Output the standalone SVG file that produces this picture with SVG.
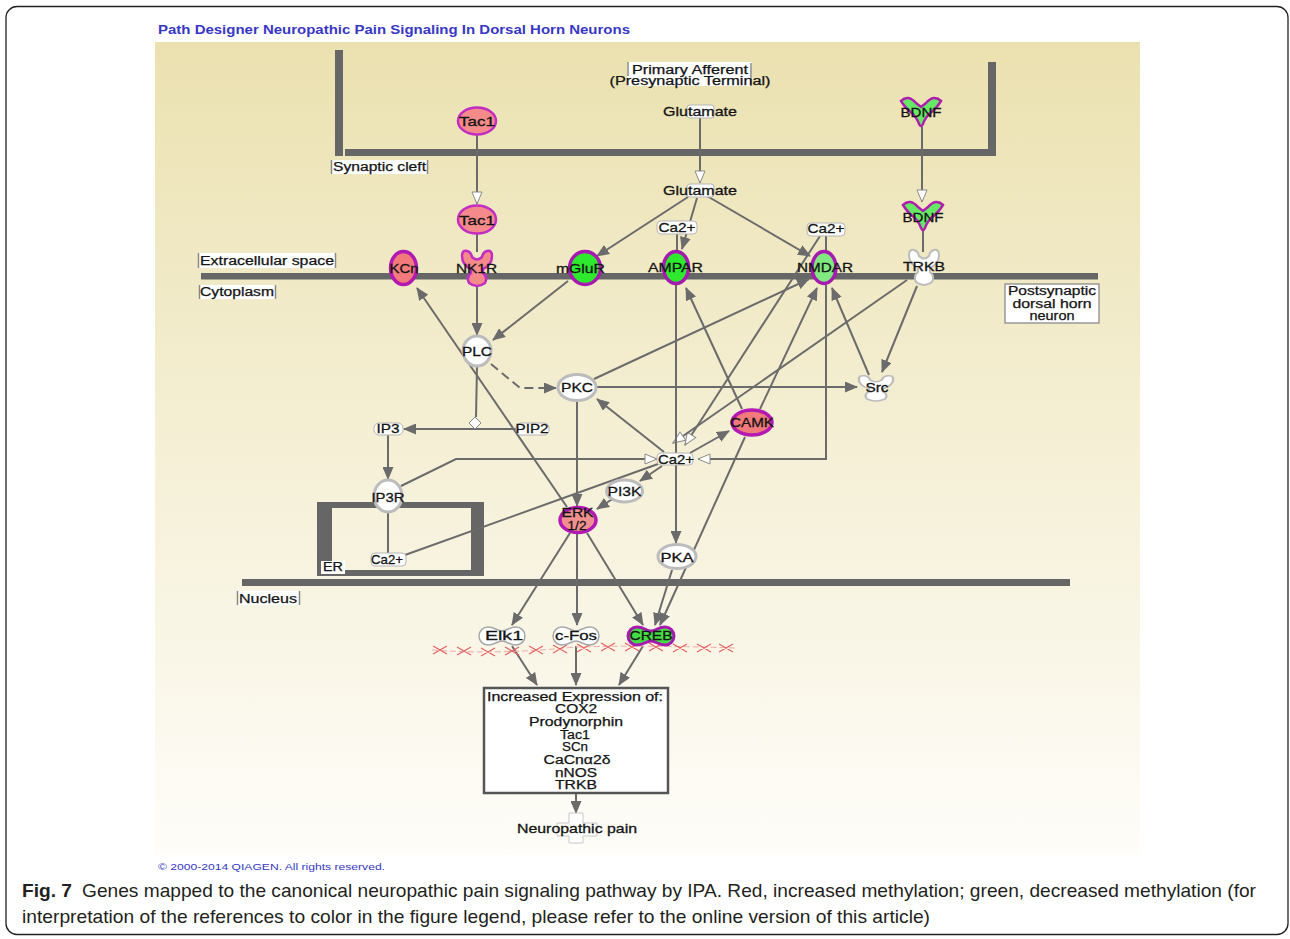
<svg xmlns="http://www.w3.org/2000/svg" width="1290" height="939" viewBox="0 0 1290 939">
<style>
.t{font-family:"Liberation Sans",Arial,sans-serif;font-size:13px;fill:#141414;stroke:#141414;stroke-width:0.3;text-anchor:middle}
.ts{font-family:"Liberation Sans",Arial,sans-serif;font-size:12px;fill:#141414;stroke:#141414;stroke-width:0.25}
.tx{font-family:"Liberation Sans",Arial,sans-serif;font-size:12px;fill:#141414;stroke:#141414;stroke-width:0.25;text-anchor:middle}
.cap{font-family:"Liberation Sans",Arial,sans-serif;font-size:19px;fill:#231f20}
.mem{fill:#666}
.lblbox{fill:#fff}
.brk{stroke:#888;stroke-width:1.5}
.c{fill:none;stroke:#6b6b6b;stroke-width:2}
.a{marker-end:url(#ah)}
.w{marker-end:url(#wh)}
.wn{fill:#fff;stroke:#bcbcbc;stroke-width:3}
.sm{fill:#fff;stroke:#b5b5b5;stroke-width:1}
.red{fill:#f27a7a;stroke:#b21ab2;stroke-width:3.5}
.pink{fill:#f58a8a;stroke:#c22ec2;stroke-width:2.5}
.grn{fill:#2eea2e;stroke:#a61ab0;stroke-width:3.5}
.lgrn{fill:#80ea80;stroke:#a61ab0;stroke-width:3.5}
</style>
<defs>
<linearGradient id="bg" x1="0" y1="0" x2="0" y2="1">
<stop offset="0" stop-color="#ebe1b0"/>
<stop offset="0.45" stop-color="#f4eed2"/>
<stop offset="1" stop-color="#fefdf9"/>
</linearGradient>
<marker id="ah" viewBox="0 0 13 11" refX="12" refY="5.5" markerWidth="13" markerHeight="11" markerUnits="userSpaceOnUse" orient="auto"><path d="M0,0 L13,5.5 L0,11 Z" fill="#6b6b6b"/></marker>
<marker id="wh" viewBox="0 0 14 12" refX="13" refY="6" markerWidth="14" markerHeight="12" markerUnits="userSpaceOnUse" orient="auto"><path d="M1,1 L13,6 L1,11 Z" fill="#fff" stroke="#8a8a8a" stroke-width="1"/></marker>
<path id="rec" d="M-15,-12 Q-15,-18 -10,-17 Q-6,-16 -5,-11 Q0,-6 5,-11 Q6,-16 10,-17 Q15,-18 15,-12 Q15,-3 6,1 L6,5 Q11,9 8,15 Q0,21 -8,15 Q-11,9 -6,5 L-6,1 Q-15,-3 -15,-12 Z"/>
<path id="lig" d="M-20,-11 Q-13,-18 -5,-9 L0,-5 L5,-9 Q13,-18 20,-11 Q15,-3 8,2 Q3,8 2,12 Q0,16 -2,12 Q-3,8 -8,2 Q-15,-3 -20,-11 Z"/>
<path id="pea" d="M-14,-9 C-7,-9 -5,-5 0,-5 C5,-5 7,-9 14,-9 A9,9 0 0 1 14,9 C7,9 5,5 0,5 C-5,5 -7,9 -14,9 A9,9 0 0 1 -14,-9 Z"/>
</defs>

<rect x="0" y="0" width="1290" height="939" fill="#fff"/>
<rect x="6" y="6.5" width="1282" height="928" rx="11" fill="none" stroke="#222" stroke-width="1.3"/>
<rect x="155" y="42" width="985" height="813" fill="url(#bg)"/>

<text x="158" y="34" font-family="Liberation Sans, Arial, sans-serif" font-size="13" font-weight="bold" fill="#3737c4" textLength="472" lengthAdjust="spacingAndGlyphs">Path Designer Neuropathic Pain Signaling In Dorsal Horn Neurons</text>

<g id="compartments">
<rect class="mem" x="335" y="50" width="8" height="106"/>
<rect class="mem" x="345" y="149" width="651" height="7"/>
<rect class="mem" x="988" y="62" width="8" height="94"/>
<rect class="mem" x="201" y="273" width="897" height="6.5"/>
<rect class="mem" x="242" y="579" width="828" height="7"/>
<path class="mem" fill-rule="evenodd" d="M317,502 H484 V576 H317 Z M332,508 V570 H471 V508 Z"/>
</g>

<g id="connectors">
<path class="c w" d="M477,135 L477,204"/>
<path class="c w" d="M700,118 L700,183"/>
<path class="c w" d="M922,127 L922,202"/>
<path class="c" d="M477,234 L477,252"/>
<path class="c" d="M923,230 L923,252"/>
<path class="c" d="M677,233 L677,251"/>
<path class="c a" d="M697,198 L682,249"/>
<path class="c a" d="M688,197 L597,256"/>
<path class="c a" d="M707,196 L810,256"/>
<path class="c" d="M826,235 L826,251"/>
<path class="c w" d="M820,236 L685,445"/>
<path class="c w" d="M907,280 L673,443"/>
<path class="c a" d="M676,285 L676,543"/>
<path class="c w" d="M826,285 L826,459 L698,459"/>
<path class="c w" d="M401,486 L456,459 L657,459"/>
<path class="c" d="M405,555 L658,464"/>
<path class="c a" d="M662,466 L640,481"/>
<path class="c a" d="M614,498 L597,509"/>
<path class="c a" d="M664,452 L597,399"/>
<path class="c a" d="M690,453 L729,431"/>
<path class="c a" d="M577,402 L577,506"/>
<path class="c a" d="M597,387 L857,387"/>
<path class="c a" d="M594,379 L809,279"/>
<path class="c a" d="M491,364 L520,388 L556,388" stroke-dasharray="9,5"/>
<path class="c a" d="M477,287 L477,335"/>
<path class="c a" d="M568,281 L493,340"/>
<path class="c a" d="M567,507 L417,288"/>
<path class="c" d="M477,367 L476,417"/>
<path class="c a" d="M516,429 L404,429"/>
<path class="c a" d="M388,435 L388,479"/>
<path class="c" d="M388,513 L388,553"/>
<path class="c a" d="M570,533 L512,625"/>
<path class="c a" d="M577,534 L577,625"/>
<path class="c a" d="M587,533 L643,625"/>
<path class="c a" d="M672,570 L655,625"/>
<path class="c a" d="M745,437 L660,625"/>
<path class="c a" d="M742,409 L686,288"/>
<path class="c a" d="M760,409 L817,288"/>
<path class="c a" d="M869,375 L832,288"/>
<path class="c a" d="M917,286 L882,372"/>
<path class="c a" d="M512,646 L537,685"/>
<path class="c a" d="M576,646 L576,685"/>
<path class="c a" d="M643,646 L619,685"/>
<path class="c a" d="M576,794 L576,813"/>
<path d="M475,417 L481,423 L475,429 L469,423 Z" fill="#fff" stroke="#8a8a8a" stroke-width="1"/>
</g>

<g id="red-x" fill="none">
<path d="M432,650 Q500,655 575,647 Q650,645 735,648" stroke="#f2a8a8" stroke-width="1" stroke-dasharray="6,3"/>
<path stroke="#e26666" stroke-width="1.3" d="M433,646 l14,8 m-14,0 l14,-8 M457,647 l14,8 m-14,0 l14,-8 M481,648 l14,8 m-14,0 l14,-8 M505,647 l14,8 m-14,0 l14,-8 M529,646 l14,8 m-14,0 l14,-8 M553,645 l14,8 m-14,0 l14,-8 M577,644 l14,8 m-14,0 l14,-8 M601,643 l14,8 m-14,0 l14,-8 M625,643 l14,8 m-14,0 l14,-8 M649,643 l14,8 m-14,0 l14,-8 M673,644 l14,8 m-14,0 l14,-8 M697,644 l14,8 m-14,0 l14,-8 M719,644 l14,8 m-14,0 l14,-8"/>
</g>

<g id="label-primary-afferent">
<rect class="lblbox" x="627" y="62" width="125" height="24"/>
<line class="brk" x1="628" y1="62" x2="628" y2="76"/>
<line class="brk" x1="751" y1="63" x2="751" y2="86"/>
<text class="tx" x="690" y="73.5" textLength="116" lengthAdjust="spacingAndGlyphs">Primary Afferent</text>
<text class="tx" x="690" y="85" textLength="161" lengthAdjust="spacingAndGlyphs">(Presynaptic Terminal)</text>
</g>
<g id="label-synaptic-cleft">
<rect class="lblbox" x="331" y="160" width="97" height="14"/>
<line class="brk" x1="331.5" y1="160" x2="331.5" y2="174"/>
<line class="brk" x1="427.5" y1="160" x2="427.5" y2="174"/>
<text class="ts" x="333" y="171" textLength="93" lengthAdjust="spacingAndGlyphs">Synaptic cleft</text>
</g>
<g id="label-extracellular">
<rect class="lblbox" x="198" y="253" width="138" height="15"/>
<line class="brk" x1="198.5" y1="253" x2="198.5" y2="268"/>
<line class="brk" x1="335.5" y1="253" x2="335.5" y2="268"/>
<text class="ts" x="200" y="265" textLength="134" lengthAdjust="spacingAndGlyphs">Extracellular space</text>
</g>
<g id="label-cytoplasm">
<rect class="lblbox" x="199" y="285" width="77" height="14"/>
<line class="brk" x1="199.5" y1="285" x2="199.5" y2="299"/>
<line class="brk" x1="275.5" y1="285" x2="275.5" y2="299"/>
<text class="ts" x="200" y="296" textLength="74" lengthAdjust="spacingAndGlyphs">Cytoplasm</text>
</g>
<g id="label-nucleus">
<rect class="lblbox" x="237" y="591" width="63" height="14"/>
<line class="brk" x1="237.5" y1="591" x2="237.5" y2="605"/>
<line class="brk" x1="299.5" y1="591" x2="299.5" y2="605"/>
<text class="ts" x="239" y="602.5" textLength="58" lengthAdjust="spacingAndGlyphs">Nucleus</text>
</g>
<g id="label-er">
<rect class="lblbox" x="321" y="561" width="24" height="13"/>
<text class="ts" x="323" y="571" textLength="20" lengthAdjust="spacingAndGlyphs">ER</text>
</g>
<g id="label-postsynaptic">
<rect x="1005" y="284" width="94" height="39" fill="#fff" stroke="#8a8a8a" stroke-width="1.3"/>
<text class="tx" x="1052" y="295" textLength="88" lengthAdjust="spacingAndGlyphs">Postsynaptic</text>
<text class="tx" x="1052" y="307.5" textLength="79" lengthAdjust="spacingAndGlyphs">dorsal horn</text>
<text class="tx" x="1052" y="319.5" textLength="45" lengthAdjust="spacingAndGlyphs">neuron</text>
</g>

<g id="tac1-pre"><ellipse class="pink" cx="477" cy="121" rx="19" ry="13.5"/><text class="t" x="477" y="126" textLength="36" lengthAdjust="spacingAndGlyphs">Tac1</text></g>
<g id="tac1-post"><ellipse class="pink" cx="477" cy="219.5" rx="19" ry="14"/><text class="t" x="477" y="225" textLength="36" lengthAdjust="spacingAndGlyphs">Tac1</text></g>
<g id="glutamate-pre"><rect class="sm" x="687" y="105" width="27" height="13" rx="3"/><text class="t" x="700" y="116" textLength="74" lengthAdjust="spacingAndGlyphs">Glutamate</text></g>
<g id="glutamate-post"><rect class="sm" x="687" y="184" width="27" height="13" rx="3"/><text class="t" x="700" y="195" textLength="74" lengthAdjust="spacingAndGlyphs">Glutamate</text></g>
<g id="bdnf-pre"><use href="#lig" x="921" y="112" fill="#66ea66" stroke="#b01eb0" stroke-width="2.5"/><text class="t" x="921" y="116.5" textLength="41" lengthAdjust="spacingAndGlyphs">BDNF</text></g>
<g id="bdnf-post"><use href="#lig" x="923" y="216" fill="#66ea66" stroke="#b01eb0" stroke-width="2.5"/><text class="t" x="923" y="221.5" textLength="41" lengthAdjust="spacingAndGlyphs">BDNF</text></g>
<g id="ca-ampar"><rect class="sm" x="657" y="221" width="40" height="13" rx="4"/><text class="t" x="677" y="231.5" textLength="37" lengthAdjust="spacingAndGlyphs">Ca2+</text></g>
<g id="ca-nmdar"><rect class="sm" x="807" y="223" width="38" height="13" rx="4"/><text class="t" x="826" y="233" textLength="37" lengthAdjust="spacingAndGlyphs">Ca2+</text></g>
<g id="kcn"><ellipse class="red" cx="403.5" cy="268" rx="13" ry="16.5"/><text class="t" x="404" y="272.5" textLength="29" lengthAdjust="spacingAndGlyphs">KCn</text></g>
<g id="nk1r"><use href="#rec" x="477" y="268" fill="#f58a8a" stroke="#c22ec2" stroke-width="2.5"/><text class="t" x="476.5" y="272.5" textLength="41" lengthAdjust="spacingAndGlyphs">NK1R</text></g>
<g id="mglur"><ellipse class="grn" cx="585" cy="268" rx="15.5" ry="16.5"/><text class="t" x="580.5" y="272.5" textLength="49" lengthAdjust="spacingAndGlyphs">mGluR</text></g>
<g id="ampar"><ellipse class="grn" cx="676" cy="267.5" rx="12.5" ry="16"/><text class="t" x="675.5" y="272" textLength="55" lengthAdjust="spacingAndGlyphs">AMPAR</text></g>
<g id="nmdar"><ellipse class="lgrn" cx="824" cy="267.5" rx="12" ry="16"/><text class="t" x="825" y="272" textLength="56" lengthAdjust="spacingAndGlyphs">NMDAR</text></g>
<g id="trkb"><use href="#rec" x="924" y="267" fill="#fff" stroke="#bcbcbc" stroke-width="2"/><text class="t" x="924" y="271" textLength="42" lengthAdjust="spacingAndGlyphs">TRKB</text></g>
<g id="plc"><ellipse class="wn" cx="477" cy="351" rx="14" ry="15"/><text class="t" x="477" y="356" textLength="30" lengthAdjust="spacingAndGlyphs">PLC</text></g>
<g id="pkc"><ellipse class="wn" cx="577" cy="387.5" rx="19" ry="13"/><text class="t" x="577" y="392" textLength="32" lengthAdjust="spacingAndGlyphs">PKC</text></g>
<g id="src"><use href="#rec" transform="translate(876,388) scale(1.15,0.72)" fill="#fff" stroke="#bcbcbc" stroke-width="2"/><text class="t" x="877" y="392" textLength="23" lengthAdjust="spacingAndGlyphs">Src</text></g>
<g id="ip3"><rect class="sm" x="374" y="423" width="29" height="12" rx="5"/><text class="t" x="388" y="433" textLength="23" lengthAdjust="spacingAndGlyphs">IP3</text></g>
<g id="pip2"><rect class="sm" x="516" y="423" width="33" height="12" rx="5"/><text class="t" x="532" y="433" textLength="33" lengthAdjust="spacingAndGlyphs">PIP2</text></g>
<g id="camk"><ellipse class="red" cx="752" cy="422.5" rx="20" ry="12.5"/><text class="t" x="752" y="426.5" textLength="44" lengthAdjust="spacingAndGlyphs">CAMK</text></g>
<g id="ca-hub"><rect class="sm" x="657" y="453" width="36" height="12" rx="4"/><text class="t" x="676" y="463.5" textLength="36" lengthAdjust="spacingAndGlyphs">Ca2+</text></g>
<g id="pi3k"><ellipse class="wn" cx="624.5" cy="491" rx="18" ry="11"/><text class="t" x="624.5" y="496" textLength="34" lengthAdjust="spacingAndGlyphs">PI3K</text></g>
<g id="ip3r"><ellipse class="wn" cx="388" cy="496" rx="14" ry="16"/><text class="t" x="388" y="501.5" textLength="33" lengthAdjust="spacingAndGlyphs">IP3R</text></g>
<g id="erk"><ellipse cx="578" cy="520" rx="18" ry="12.5" fill="#f29090" stroke="#b21ab2" stroke-width="3.5"/><text class="t" x="577.5" y="516.5" textLength="32" lengthAdjust="spacingAndGlyphs">ERK</text><text class="t" x="577" y="530" textLength="19" lengthAdjust="spacingAndGlyphs">1/2</text></g>
<g id="pka"><ellipse class="wn" cx="677" cy="556.5" rx="19" ry="12"/><text class="t" x="677" y="561.5" textLength="33" lengthAdjust="spacingAndGlyphs">PKA</text></g>
<g id="ca-er"><rect class="sm" x="371" y="553" width="35" height="13" rx="4"/><text class="t" x="387" y="564" textLength="32" lengthAdjust="spacingAndGlyphs">Ca2+</text></g>
<g id="elk1"><use href="#pea" x="502" y="636" fill="#fff" stroke="#a8a8a8" stroke-width="1.5"/><text class="t" x="504" y="640" textLength="38" lengthAdjust="spacingAndGlyphs">Elk1</text></g>
<g id="cfos"><use href="#pea" x="576" y="636" fill="#fff" stroke="#a8a8a8" stroke-width="1.5"/><text class="t" x="576" y="640" textLength="42" lengthAdjust="spacingAndGlyphs">c-Fos</text></g>
<g id="creb"><use href="#pea" x="651" y="636" fill="#44dd44" stroke="#a61ab0" stroke-width="3"/><text class="t" x="651" y="640" textLength="43" lengthAdjust="spacingAndGlyphs">CREB</text></g>
<g id="expression">
<rect x="484" y="688" width="184" height="105" fill="#fff" stroke="#555" stroke-width="2.5"/>
<text class="tx" x="575" y="700.5" textLength="176" lengthAdjust="spacingAndGlyphs">Increased Expression of:</text>
<text class="tx" x="576" y="713" textLength="42" lengthAdjust="spacingAndGlyphs">COX2</text>
<text class="tx" x="576" y="725.7" textLength="94" lengthAdjust="spacingAndGlyphs">Prodynorphin</text>
<text class="tx" x="575" y="738.5" textLength="30" lengthAdjust="spacingAndGlyphs">Tac1</text>
<text class="tx" x="575" y="751" textLength="26" lengthAdjust="spacingAndGlyphs">SCn</text>
<text class="tx" x="577" y="764" textLength="67" lengthAdjust="spacingAndGlyphs">CaCnα2δ</text>
<text class="tx" x="576" y="776.5" textLength="42" lengthAdjust="spacingAndGlyphs">nNOS</text>
<text class="tx" x="576" y="789" textLength="42" lengthAdjust="spacingAndGlyphs">TRKB</text>
</g>
<g id="neuropathic-pain">
<path d="M569,813 H583 V823 H597 V836 H583 V843 H569 V836 H557 V823 H569 Z" fill="#fff" stroke="#c8c8c8" stroke-width="1"/>
<text class="t" x="577" y="833" textLength="120" lengthAdjust="spacingAndGlyphs">Neuropathic pain</text>
</g>

<text x="158" y="869.5" font-family="Liberation Sans, Arial, sans-serif" font-size="9" fill="#3737c4" textLength="227" lengthAdjust="spacingAndGlyphs">© 2000-2014 QIAGEN. All rights reserved.</text>

<g id="caption">
<text class="cap" x="22" y="897" font-weight="bold" textLength="50" lengthAdjust="spacingAndGlyphs">Fig. 7</text>
<text class="cap" x="82" y="897" textLength="1174" lengthAdjust="spacingAndGlyphs">Genes mapped to the canonical neuropathic pain signaling pathway by IPA. Red, increased methylation; green, decreased methylation (for</text>
<text class="cap" x="22" y="923" textLength="908" lengthAdjust="spacingAndGlyphs">interpretation of the references to color in the figure legend, please refer to the online version of this article)</text>
</g>
</svg>
